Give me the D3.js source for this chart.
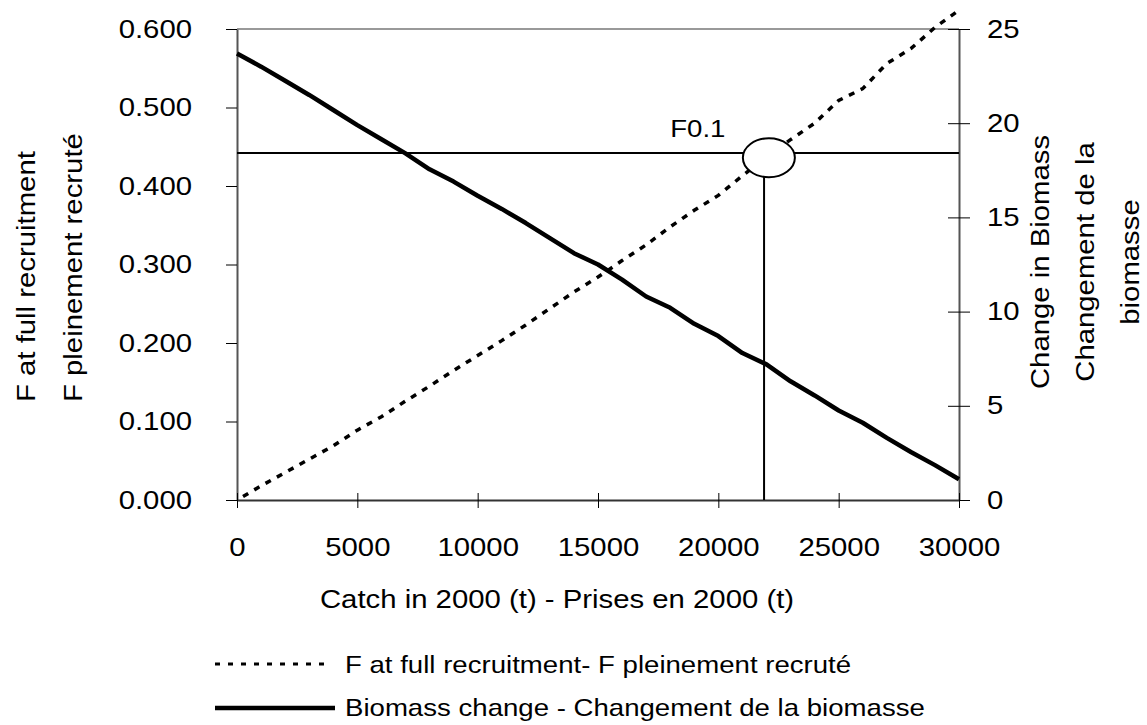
<!DOCTYPE html>
<html>
<head>
<meta charset="utf-8">
<script src="https://cdn.jsdelivr.net/npm/d3@7"></script>
<style>
  body { margin: 0; background: #fff; }
  svg { display: block; }
  text { font-family: Arial, "Liberation Sans", sans-serif; fill: #000; }
</style>
</head>
<body>
<script>
// Catch in 2000 (t), every 1000 t
let catches = d3.range(0, 30001, 1000);
// F at full recruitment (left axis)
let fValues = [0.000, 0.018, 0.035, 0.052, 0.069, 0.089, 0.106, 0.126, 0.145, 0.165,
               0.184, 0.203, 0.223, 0.244, 0.265, 0.284, 0.305, 0.325, 0.348, 0.369,
               0.388, 0.413, 0.437, 0.459, 0.480, 0.509, 0.524, 0.556, 0.575, 0.602, 0.624];
// Biomass change (right axis)
let biomass = [23.7, 23.0, 22.25, 21.5, 20.7, 19.9, 19.15, 18.4, 17.55, 16.9,
               16.15, 15.45, 14.7, 13.9, 13.1, 12.5, 11.7, 10.8, 10.2, 9.35,
               8.7, 7.8, 7.2, 6.3, 5.55, 4.75, 4.1, 3.3, 2.55, 1.85, 1.1];

let xTicks = [0, 5000, 10000, 15000, 20000, 25000, 30000];
let leftTicks = [0, 0.1, 0.2, 0.3, 0.4, 0.5, 0.6];
let rightTicks = [0, 5, 10, 15, 20, 25];

// F0.1 reference
let f01Level = 0.442;      // horizontal line
let f01Catch = 21900;      // vertical line
let f01Mark = {c: 22100, f: 0.436};
let f01Label = {c: 18000, f: 0.462, text: 'F0.1'};

let xTitle = 'Catch in 2000 (t) - Prises en 2000 (t)';
let leftTitle = ['F at full recruitment', 'F pleinement recruté'];
let rightTitle = ['Change in Biomass', 'Changement de la', 'biomasse'];
let legendLabels = ['F at full recruitment- F pleinement recruté', 'Biomass change - Changement de la biomasse'];

let SX = 1.15; // fonts in the picture are wider than Arial

let width = 1147, height = 725;
let svg = d3.select('body').append('svg')
    .attr('width', width)
    .attr('height', height);

let x = d3.scaleLinear().domain([0, 30000]).range([237, 959]);
let yL = d3.scaleLinear().domain([0, 0.6]).range([500, 29]);
let yR = d3.scaleLinear().domain([0, 25]).range([500, 29]);

// top border
svg.append('line')
    .attr('x1', x(0)).attr('x2', x(30000))
    .attr('y1', yL(0.6)).attr('y2', yL(0.6))
    .style('stroke', '#999').style('stroke-width', 2);

function stretchText(sel, size) {
    sel.selectAll('text').each(function() {
        let t = d3.select(this);
        let tx = +t.attr('x') || 0;
        t.attr('x', tx / SX).attr('transform', `scale(${SX},1)`)
            .style('font-size', size + 'px');
    });
}

// left axis
let gL = svg.append('g').attr('transform', `translate(${x(0)},0)`)
    .call(d3.axisLeft(yL).tickValues(leftTicks).tickFormat(d3.format('.3f'))
        .tickSizeInner(11).tickSizeOuter(0).tickPadding(34));
gL.select('.domain').style('stroke', '#555').style('stroke-width', 2);
gL.selectAll('.tick line').style('stroke', '#000');
stretchText(gL, 25.5);

// right axis
let gR = svg.append('g').attr('transform', `translate(${x(30000)},0)`)
    .call(d3.axisRight(yR).tickValues(rightTicks)
        .tickSizeInner(11).tickSizeOuter(0).tickPadding(17));
gR.select('.domain').style('stroke', '#555').style('stroke-width', 2);
gR.selectAll('.tick line').attr('x1', -11).style('stroke', '#000');
stretchText(gR, 25.5);

// bottom axis
let gB = svg.append('g').attr('transform', `translate(0,${yL(0)})`)
    .call(d3.axisBottom(x).tickValues(xTicks).tickFormat(d3.format('d'))
        .tickSizeInner(8).tickSizeOuter(0).tickPadding(30));
gB.select('.domain').style('stroke', '#333').style('stroke-width', 2);
gB.selectAll('.tick line').attr('y1', -7).style('stroke', '#000');
stretchText(gB, 25.5);
svg.selectAll('g').attr('font-size', null).attr('font-family', null);

// series
let fData = catches.map((c, i) => ({c: c, v: fValues[i]}));
let bData = catches.map((c, i) => ({c: c, v: biomass[i]}));

svg.append('path')
    .datum(bData)
    .attr('d', d3.line().x(d => x(d.c)).y(d => yR(d.v)))
    .style('fill', 'none').style('stroke', '#000')
    .style('stroke-width', 4.5).style('stroke-linejoin', 'round');

svg.append('path')
    .datum(fData)
    .attr('d', d3.line().x(d => x(d.c)).y(d => yL(d.v)))
    .style('fill', 'none').style('stroke', '#000')
    .style('stroke-width', 3.5).style('stroke-dasharray', '6,7')
    .style('stroke-dashoffset', 6);

// F0.1 lines and marker
svg.append('line')
    .attr('x1', x(0)).attr('x2', x(30000))
    .attr('y1', yL(f01Level)).attr('y2', yL(f01Level))
    .style('stroke', '#000').style('stroke-width', 2);
svg.append('line')
    .attr('x1', x(f01Catch)).attr('x2', x(f01Catch))
    .attr('y1', yL(0)).attr('y2', yL(f01Mark.f))
    .style('stroke', '#000').style('stroke-width', 2);
svg.append('ellipse')
    .attr('cx', x(f01Mark.c)).attr('cy', yL(f01Mark.f))
    .attr('rx', 26).attr('ry', 19.5)
    .style('fill', '#fff').style('stroke', '#000').style('stroke-width', 2);
svg.append('text')
    .attr('transform', `translate(${x(f01Label.c)},${yL(f01Label.f)}) scale(${SX},1)`)
    .style('font-size', '24px')
    .text(f01Label.text);

// axis titles
svg.append('text')
    .attr('transform', `translate(557,608) scale(${SX},1)`)
    .attr('text-anchor', 'middle')
    .style('font-size', '25.5px')
    .text(xTitle);

leftTitle.forEach((t, i) => {
    svg.append('text')
        .attr('transform', `translate(${35 + i * 47},402) rotate(-90) scale(${SX},1)`)
        .attr('text-anchor', 'start')
        .style('font-size', '25.5px')
        .text(t);
});

rightTitle.forEach((t, i) => {
    svg.append('text')
        .attr('transform', `translate(${1049 + i * 45},262) rotate(-90) scale(${SX},1)`)
        .attr('text-anchor', 'middle')
        .style('font-size', '25.5px')
        .text(t);
});

// legend
let legend = svg.append('g');
legend.append('line')
    .attr('x1', 215).attr('x2', 330).attr('y1', 664).attr('y2', 664)
    .style('stroke', '#000').style('stroke-width', 3).style('stroke-dasharray', '5,8');
legend.append('line')
    .attr('x1', 215).attr('x2', 335).attr('y1', 708).attr('y2', 708)
    .style('stroke', '#000').style('stroke-width', 4.5);
legendLabels.forEach((t, i) => {
    legend.append('text')
        .attr('transform', `translate(345,${673 + i * 43}) scale(${SX},1)`)
        .style('font-size', '24px')
        .text(t);
});
</script>
</body>
</html>
